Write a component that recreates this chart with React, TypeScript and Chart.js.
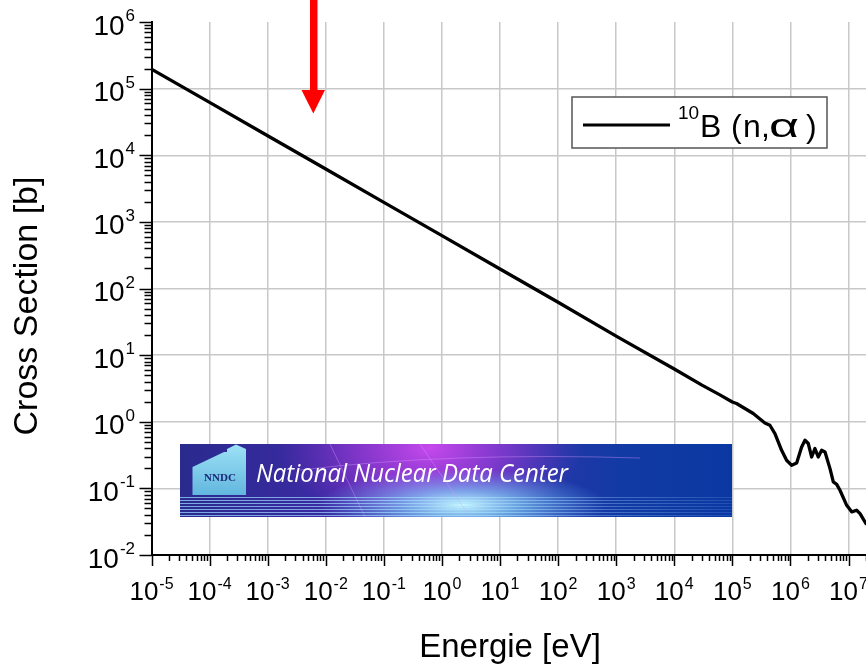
import React, { useEffect, useRef } from 'react';
import { Chart, registerables } from 'chart.js';

Chart.register(...registerables);

// ---- data ----
const energies = [
  1e-5, 1e-4, 1e-3, 1e-2, 1e-1, 1, 10, 100, 1e3, 1e4, 3e4, 6e4, 1e5,
  1.18e5, 2.29e5, 3.63e5, 4.43e5, 5.41e5, 7.05e5, 8.59e5, 1.05e6, 1.28e6,
  1.56e6, 1.78e6, 2.03e6, 2.32e6, 2.64e6, 3.01e6, 3.45e6, 3.94e6, 4.8e6,
  5.47e6, 6.26e6, 7.13e6, 9.31e6, 1.14e7, 1.38e7, 1.58e7, 2.0e7,
];
const crossSections = [
  196000, 62100, 19600, 6210, 1960, 621, 196, 62.1, 19.3, 6.2, 3.55, 2.55, 1.98,
  1.88, 1.33, 0.96, 0.886, 0.665, 0.373, 0.264, 0.222, 0.24,
  0.418, 0.528, 0.471, 0.296, 0.396, 0.296, 0.373, 0.352, 0.198,
  0.125, 0.115, 0.0936, 0.0557, 0.0443, 0.0469, 0.0418, 0.0296,
];
const xTickExponents = ['-5', '-4', '-3', '-2', '-1', '0', '1', '2', '3', '4', '5', '6', '7'];
const yTickExponents = ['-2', '-1', '0', '1', '2', '3', '4', '5', '6'];
const xTitle = 'Energie [eV]';
const yTitle = 'Cross Section [b]';
const legendSup = '10';
const legendParts = ['B', '(', 'n', ',', 'α', ')'];
const bannerText = 'National Nuclear Data Center';
const bannerLogo = 'NNDC';

const X_MIN = 1e-5;
const X_MAX = 2.0e7;
const Y_MIN = 1e-2;
const Y_MAX = 1e6;

const FONT = "'Liberation Sans', Arial, sans-serif";

function drawBanner(ctx: CanvasRenderingContext2D) {
  const x0 = 180, y0 = 444, w = 552, h = 73;
  ctx.save();
  ctx.beginPath();
  ctx.rect(x0, y0, w, h);
  ctx.clip();
  const g = ctx.createLinearGradient(x0, 0, x0 + w, 0);
  g.addColorStop(0, '#2a2a8e');
  g.addColorStop(0.25, '#3a2aa2');
  g.addColorStop(0.45, '#5030b4');
  g.addColorStop(0.62, '#2a36aa');
  g.addColorStop(0.8, '#123aa4');
  g.addColorStop(1, '#0a38a2');
  ctx.fillStyle = g;
  ctx.fillRect(x0, y0, w, h);

  // purple glow
  ctx.save();
  ctx.translate(430, 448);
  ctx.scale(1.9, 1);
  let rg = ctx.createRadialGradient(0, 0, 0, 0, 0, 80);
  rg.addColorStop(0, 'rgba(205,75,240,0.95)');
  rg.addColorStop(0.5, 'rgba(175,60,225,0.55)');
  rg.addColorStop(1, 'rgba(150,50,210,0)');
  ctx.fillStyle = rg;
  ctx.fillRect(-120, -60, 240, 120);
  ctx.restore();

  // cyan glow
  ctx.save();
  ctx.translate(462, 505);
  ctx.scale(4, 1);
  rg = ctx.createRadialGradient(0, 0, 0, 0, 0, 36);
  rg.addColorStop(0, 'rgba(200,248,255,1)');
  rg.addColorStop(0.4, 'rgba(130,215,250,0.65)');
  rg.addColorStop(1, 'rgba(100,180,250,0)');
  ctx.fillStyle = rg;
  ctx.fillRect(-60, -40, 120, 80);
  ctx.restore();

  // thin diagonal light streaks
  ctx.strokeStyle = 'rgba(215,150,255,0.4)';
  ctx.lineWidth = 1;
  ctx.beginPath();
  ctx.moveTo(330, 444); ctx.lineTo(365, 517);
  ctx.moveTo(420, 444); ctx.lineTo(470, 517);
  ctx.moveTo(300, 470); ctx.quadraticCurveTo(450, 452, 640, 458);
  ctx.stroke();

  // horizontal stripes
  const sg = ctx.createLinearGradient(x0, 0, x0 + w, 0);
  sg.addColorStop(0, 'rgba(150,215,255,0.75)');
  sg.addColorStop(0.55, 'rgba(170,230,255,0.6)');
  sg.addColorStop(1, 'rgba(120,170,240,0.2)');
  ctx.strokeStyle = sg;
  ctx.lineWidth = 1;
  for (let y = 497.5; y < 516; y += 3) {
    ctx.beginPath();
    ctx.moveTo(x0, y);
    ctx.lineTo(x0 + w, y);
    ctx.stroke();
  }

  // house logo
  const hg = ctx.createLinearGradient(0, 444, 0, 495);
  hg.addColorStop(0, '#9ee2f6');
  hg.addColorStop(1, '#62b6de');
  ctx.fillStyle = hg;
  ctx.beginPath();
  ctx.moveTo(192.5, 495);
  ctx.lineTo(192.5, 467);
  ctx.lineTo(224, 452);
  ctx.lineTo(227, 452);
  ctx.lineTo(227, 449);
  ctx.lineTo(236, 444.5);
  ctx.lineTo(246, 449);
  ctx.lineTo(246, 495);
  ctx.closePath();
  ctx.fill();
  ctx.fillStyle = '#1b2a78';
  ctx.font = "bold 11px 'Liberation Serif', serif";
  ctx.textAlign = 'center';
  ctx.textBaseline = 'alphabetic';
  ctx.fillText(bannerLogo, 220, 481);

  // title text
  ctx.fillStyle = '#ffffff';
  ctx.font = "italic 26px 'Open Sans', 'Liberation Sans', sans-serif";
  ctx.textAlign = 'left';
  const tw = ctx.measureText(bannerText).width;
  ctx.translate(256, 482);
  ctx.scale(312 / tw, 1);
  ctx.fillText(bannerText, 0, 0);
  ctx.restore();
}

function drawPow(
  ctx: CanvasRenderingContext2D,
  exp: string,
  anchorX: number,
  baseY: number,
  supY: number,
  mode: 'center' | 'right',
  baseSize: number,
  supSize: number,
) {
  ctx.font = `${baseSize}px ${FONT}`;
  const w1 = ctx.measureText('10').width;
  ctx.font = `${supSize}px ${FONT}`;
  const w2 = ctx.measureText(exp).width;
  const gap = 1;
  const total = w1 + gap + w2;
  const start = mode === 'center' ? anchorX - total / 2 : anchorX - total;
  ctx.textAlign = 'left';
  ctx.textBaseline = 'alphabetic';
  ctx.font = `${baseSize}px ${FONT}`;
  ctx.fillText('10', start, baseY);
  ctx.font = `${supSize}px ${FONT}`;
  ctx.fillText(exp, start + w1 + gap, supY);
}

const decorPlugin = {
  id: 'decor',
  afterDraw(chart: any) {
    const ctx: CanvasRenderingContext2D = chart.ctx;
    const xs = chart.scales.x;
    const ys = chart.scales.y;
    const ca = chart.chartArea;
    ctx.save();

    // ticks (major + minor), outward
    ctx.strokeStyle = '#000';
    ctx.lineWidth = 1.5;
    ctx.beginPath();
    xTickExponents.forEach((e) => {
      const base = Number('1e' + e);
      for (let k = 1; k <= 9; k++) {
        const v = base * k;
        if (v < X_MIN * 0.999 || v > X_MAX) continue;
        const px = Math.round(xs.getPixelForValue(v)) + 0.5;
        ctx.moveTo(px, ca.bottom);
        ctx.lineTo(px, ca.bottom + (k === 1 ? 11 : 6));
      }
    });
    yTickExponents.forEach((e) => {
      const base = Number('1e' + e);
      for (let k = 1; k <= 9; k++) {
        const v = base * k;
        if (v < Y_MIN * 0.999 || v > Y_MAX * 1.001) continue;
        const py = Math.round(ys.getPixelForValue(v)) + 0.5;
        ctx.moveTo(ca.left, py);
        ctx.lineTo(ca.left - (k === 1 ? 12 : 7), py);
      }
    });
    ctx.stroke();

    // tick labels
    ctx.fillStyle = '#000';
    xTickExponents.forEach((e) => {
      const px = xs.getPixelForValue(Number('1e' + e));
      drawPow(ctx, e, px, ca.bottom + 45, ca.bottom + 34, 'center', 26, 16);
    });
    yTickExponents.forEach((e) => {
      const py = ys.getPixelForValue(Number('1e' + e));
      drawPow(ctx, e, 135, py + 12.5, py - 1, 'right', 28, 17);
    });

    // axis titles
    ctx.textAlign = 'center';
    ctx.textBaseline = 'alphabetic';
    ctx.font = `33px ${FONT}`;
    ctx.fillText(xTitle, 510, 657);
    ctx.save();
    ctx.translate(37, 306);
    ctx.rotate(-Math.PI / 2);
    ctx.font = `34px ${FONT}`;
    ctx.fillText(yTitle, 0, 0);
    ctx.restore();

    // banner
    drawBanner(ctx);

    // legend
    ctx.fillStyle = '#fff';
    ctx.fillRect(572, 97, 255, 51);
    ctx.strokeStyle = '#555';
    ctx.lineWidth = 1.5;
    ctx.strokeRect(572, 97, 255, 51);
    ctx.strokeStyle = '#000';
    ctx.lineWidth = 3;
    ctx.beginPath();
    ctx.moveTo(583, 125);
    ctx.lineTo(670, 125);
    ctx.stroke();
    ctx.fillStyle = '#000';
    ctx.textAlign = 'left';
    ctx.font = `19px ${FONT}`;
    ctx.fillText(legendSup, 678, 118.5);
    ctx.font = `32px ${FONT}`;
    const partX = [700, 731, 743, 761, 769, 806];
    legendParts.forEach((p, i) => {
      if (p === 'α') {
        ctx.save();
        ctx.font = `34px ${FONT}`;
        const aw = ctx.measureText(p).width;
        ctx.translate(partX[i], 136.5);
        ctx.scale(30 / aw, 1);
        ctx.fillText(p, 0, 0);
        ctx.restore();
      } else {
        ctx.fillText(p, partX[i], 136.5);
      }
    });

    // red arrow
    ctx.fillStyle = '#ff0000';
    ctx.fillRect(310, 0, 7.5, 91);
    ctx.beginPath();
    ctx.moveTo(301.5, 90);
    ctx.lineTo(325, 90);
    ctx.lineTo(313.3, 113.5);
    ctx.closePath();
    ctx.fill();

    ctx.restore();
  },
};

export default function App() {
  const canvasRef = useRef<HTMLCanvasElement | null>(null);

  useEffect(() => {
    document.body.style.margin = '0';
    const canvas = canvasRef.current;
    if (!canvas) return;
    const points = energies.map((e, i) => ({ x: e, y: crossSections[i] }));
    const xTicks = xTickExponents.map((e) => Number('1e' + e));
    const yTicks = yTickExponents.map((e) => Number('1e' + e));
    const chart = new Chart(canvas, {
      type: 'line',
      data: {
        datasets: [
          {
            label: legendSup + legendParts.join(''),
            data: points,
            borderColor: '#000',
            borderWidth: 3.3,
            pointRadius: 0,
            tension: 0,
            borderJoinStyle: 'round',
            borderCapStyle: 'round',
            fill: false,
          },
        ],
      },
      options: {
        animation: false,
        responsive: false,
        devicePixelRatio: 1,
        layout: { padding: { top: 22, right: 0, bottom: 0, left: 0 } },
        plugins: { legend: { display: false }, tooltip: { enabled: false }, title: { display: false } },
        scales: {
          x: {
            type: 'logarithmic',
            min: X_MIN,
            max: X_MAX,
            afterBuildTicks: (s: any) => {
              s.ticks = xTicks.map((v) => ({ value: v }));
            },
            afterFit: (s: any) => {
              s.height = 109;
            },
            ticks: { display: false },
            grid: { color: '#c8c8c8', lineWidth: 1.5, drawTicks: false },
            border: { color: '#000', width: 2 },
          },
          y: {
            type: 'logarithmic',
            min: Y_MIN,
            max: Y_MAX,
            afterBuildTicks: (s: any) => {
              s.ticks = yTicks.map((v) => ({ value: v }));
            },
            afterFit: (s: any) => {
              s.width = 151.5;
            },
            ticks: { display: false },
            grid: {
              color: (c: any) => (c.tick && c.tick.value >= Y_MAX ? 'rgba(0,0,0,0)' : '#c8c8c8'),
              lineWidth: 1.5,
              drawTicks: false,
            },
            border: { color: '#000', width: 2 },
          },
        },
      },
      plugins: [decorPlugin],
    });
    return () => chart.destroy();
  }, []);

  return (
    <div style={{ width: 866, height: 664, background: '#fff' }}>
      <canvas ref={canvasRef} width={866} height={664} style={{ display: 'block' }} />
    </div>
  );
}
